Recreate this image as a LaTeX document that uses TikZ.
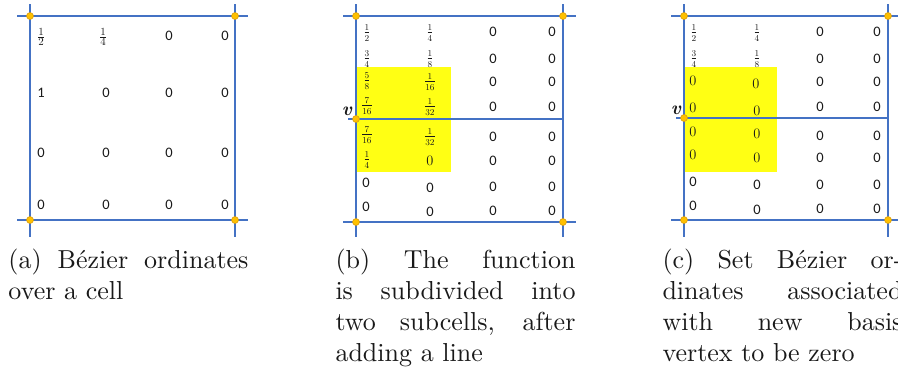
\documentclass[tikz,border=0pt]{standalone}
\usepackage{fontspec}
\newfontfamily\calib{Carlito}
\usetikzlibrary{calc}
\definecolor{gridblue}{RGB}{68,114,196}
\definecolor{dotgold}{RGB}{255,192,0}
\definecolor{dotedge}{RGB}{210,150,20}
\definecolor{hiyellow}{RGB}{255,255,20}
\definecolor{ink}{RGB}{25,25,25}
\newcommand\numfont{\calib\fontsize{14.5pt}{17pt}\selectfont}
\newcommand\fracafont{\fontsize{15pt}{18pt}\selectfont}
\newcommand\fracfont{\fontsize{13.5pt}{16pt}\selectfont}
\newcommand\zserfont{\fontsize{15pt}{18pt}\selectfont}
\newcommand\vfont{\fontsize{19pt}{21pt}\selectfont\bfseries\itshape}
\newcommand\capfont{\fontsize{10.4pt}{12.4pt}\selectfont}
\begin{document}
\begin{tikzpicture}[x=1pt,y=-1pt,
  gridline/.style={draw=gridblue, line width=1.4pt},
  vtx/.style={circle, fill=dotgold, draw=dotedge, line width=0.5pt, inner sep=0pt, minimum size=7pt},
  num/.style={inner sep=0pt, text=ink, font=\numfont},
  frca/.style={inner sep=0pt, text=ink, font=\fracafont},
  frc/.style={inner sep=0pt, text=ink, font=\fracfont},
  zser/.style={inner sep=0pt, text=ink, font=\zserfont},
  vlabel/.style={inner sep=0pt, text=ink, font=\vfont},
  captext/.style={scale=2.5, anchor=north west, inner sep=0pt, text width=96pt, align=justify, text=ink, font=\capfont},
  hilite/.style={fill=hiyellow, draw=none}
]
\useasboundingbox (0,0) rectangle (898,373);

% ---------- highlights ----------
\fill[hilite] (357,67) rectangle (451,172);
\fill[hilite] (685,67) rectangle (777,172);

% ---------- panel (a) frame ----------
\coordinate (atl) at (30,16);  \coordinate (atr) at (235,16);
\coordinate (abl) at (30,220); \coordinate (abr) at (235,220);
\draw[gridline] ([yshift=12pt]atl) -- ([yshift=-17pt]abl);
\draw[gridline] ([yshift=12pt]atr) -- ([yshift=-17pt]abr);
\draw[gridline] ([xshift=-13pt]atl) -- ([xshift=13pt]atr);
\draw[gridline] ([xshift=-13pt]abl) -- ([xshift=13pt]abr);

% ---------- panel (b) frame ----------
\coordinate (btl) at (356,16);  \coordinate (btr) at (563,16);
\coordinate (bbl) at (356,222); \coordinate (bbr) at (563,222);
\coordinate (bv) at (356,119);  \coordinate (bvr) at (563,119);
\draw[gridline] ([yshift=12pt]btl) -- ([yshift=-15pt]bbl);
\draw[gridline] ([yshift=12pt]btr) -- ([yshift=-15pt]bbr);
\draw[gridline] ([xshift=-13pt]btl) -- ([xshift=13pt]btr);
\draw[gridline] ([xshift=-13pt]bbl) -- ([xshift=13pt]bbr);
\draw[gridline] ([xshift=-8pt]bv) -- (bvr);

% ---------- panel (c) frame ----------
\coordinate (ctl) at (684,16);  \coordinate (ctr) at (888,16);
\coordinate (cbl) at (684,220); \coordinate (cbr) at (888,220);
\coordinate (cv) at (684,118);  \coordinate (cvr) at (888,118);
\draw[gridline] ([yshift=12pt]ctl) -- ([yshift=-17pt]cbl);
\draw[gridline] ([yshift=12pt]ctr) -- ([yshift=-17pt]cbr);
\draw[gridline] ([xshift=-13pt]ctl) -- ([xshift=13pt]ctr);
\draw[gridline] ([xshift=-13pt]cbl) -- ([xshift=13pt]cbr);
\draw[gridline] ([xshift=-8pt]cv) -- (cvr);

% ---------- vertices ----------
\node[vtx] (datl) at (atl) {}; \node[vtx] (datr) at (atr) {};
\node[vtx] (dabl) at (abl) {}; \node[vtx] (dabr) at (abr) {};
\node[vtx] (dbtl) at (btl) {}; \node[vtx] (dbtr) at (btr) {};
\node[vtx] (dbbl) at (bbl) {}; \node[vtx] (dbbr) at (bbr) {};
\node[vtx] (dbv) at (bv) {};
\node[vtx] (dctl) at (ctl) {}; \node[vtx] (dctr) at (ctr) {};
\node[vtx] (dcbl) at (cbl) {}; \node[vtx] (dcbr) at (cbr) {};
\node[vtx] (dcv) at (cv) {};

\node[vlabel] (bvlab) at (347,111) {v};
\node[vlabel] (cvlab) at (676,110) {v};

% ---------- panel (a) ordinates ----------
\node[frca] (a11) at (41,37) {$\frac{1}{2}$};
\node[frca] (a12) at (103,37) {$\frac{1}{4}$};
\node[num] (a13) at (169,36) {0};
\node[num] (a14) at (225,36) {0};
\node[num] (a21) at (41,93) {1};
\node[num] (a22) at (106,93) {0};
\node[num] (a23) at (169,93) {0};
\node[num] (a24) at (225,93) {0};
\node[num] (a31) at (41,153) {0};
\node[num] (a32) at (106,153) {0};
\node[num] (a33) at (169,153) {0};
\node[num] (a34) at (225,153) {0};
\node[num] (a41) at (41,205) {0};
\node[num] (a42) at (106,205) {0};
\node[num] (a43) at (169,205) {0};
\node[num] (a44) at (225,205) {0};

% ---------- panel (b) ordinates ----------
\node[frc] (b11) at (367,33) {$\frac{1}{2}$};
\node[frc] (b12) at (430,33) {$\frac{1}{4}$};
\node[num] (b13) at (493,32) {0};
\node[num] (b14) at (552,32) {0};
\node[frc] (b21) at (367,59) {$\frac{3}{4}$};
\node[frc] (b22) at (430,59) {$\frac{1}{8}$};
\node[num] (b23) at (493,59) {0};
\node[num] (b24) at (552,59) {0};
\node[frc] (b31) at (367,81) {$\frac{5}{8}$};
\node[frc] (b32) at (430,82) {$\frac{1}{16}$};
\node[num] (b33) at (493,82) {0};
\node[num] (b34) at (552,82) {0};
\node[frc] (b41) at (367,106) {$\frac{7}{16}$};
\node[frc] (b42) at (430,107) {$\frac{1}{32}$};
\node[num] (b43) at (493,107) {0};
\node[num] (b44) at (552,107) {0};
\node[frc] (b51) at (367,135) {$\frac{7}{16}$};
\node[frc] (b52) at (430,137) {$\frac{1}{32}$};
\node[num] (b53) at (493,137) {0};
\node[num] (b54) at (552,137) {0};
\node[frc] (b61) at (367,160) {$\frac{1}{4}$};
\node[zser] (b62) at (430,161) {$0$};
\node[num] (b63) at (493,161) {0};
\node[num] (b64) at (552,161) {0};
\node[num] (b71) at (366,183) {0};
\node[num] (b72) at (430,188) {0};
\node[num] (b73) at (493,187) {0};
\node[num] (b74) at (552,187) {0};
\node[num] (b81) at (366,207) {0};
\node[num] (b82) at (430,212) {0};
\node[num] (b83) at (493,211) {0};
\node[num] (b84) at (552,211) {0};

% ---------- panel (c) ordinates ----------
\node[frc] (c11) at (694,33) {$\frac{1}{2}$};
\node[frc] (c12) at (757,33) {$\frac{1}{4}$};
\node[num] (c13) at (820,32) {0};
\node[num] (c14) at (877,32) {0};
\node[frc] (c21) at (694,59) {$\frac{3}{4}$};
\node[frc] (c22) at (757,59) {$\frac{1}{8}$};
\node[num] (c23) at (820,59) {0};
\node[num] (c24) at (877,59) {0};
\node[zser] (c31) at (693,81) {$0$};
\node[zser] (c32) at (756,84) {$0$};
\node[num] (c33) at (820,82) {0};
\node[num] (c34) at (877,82) {0};
\node[zser] (c41) at (693,108) {$0$};
\node[zser] (c42) at (757,111) {$0$};
\node[num] (c43) at (820,107) {0};
\node[num] (c44) at (877,107) {0};
\node[zser] (c51) at (693,132) {$0$};
\node[zser] (c52) at (757,134) {$0$};
\node[num] (c53) at (820,136) {0};
\node[num] (c54) at (877,136) {0};
\node[zser] (c61) at (693,155) {$0$};
\node[zser] (c62) at (757,158) {$0$};
\node[num] (c63) at (820,158) {0};
\node[num] (c64) at (877,158) {0};
\node[num] (c71) at (693,182) {0};
\node[num] (c72) at (757,185) {0};
\node[num] (c73) at (820,185) {0};
\node[num] (c74) at (877,185) {0};
\node[num] (c81) at (693,206) {0};
\node[num] (c82) at (757,210) {0};
\node[num] (c83) at (820,209) {0};
\node[num] (c84) at (877,209) {0};

% ---------- captions ----------
\node[captext] (capa) at (8,248.5) {\tolerance=10000 \hyphenpenalty=10000 (a) Bézier ordinates\linebreak over a cell};
\node[captext] (capb) at (335,248.5) {\tolerance=10000 \hyphenpenalty=10000 (b) The function\linebreak is subdivided into\linebreak two subcells, after\linebreak adding a line};
\node[captext] (capc) at (662,248.5) {\tolerance=10000 \hyphenpenalty=10000 (c) Set Bézier or-\linebreak dinates associated\linebreak with new basis\linebreak vertex to be zero};
\end{tikzpicture}
\end{document}
